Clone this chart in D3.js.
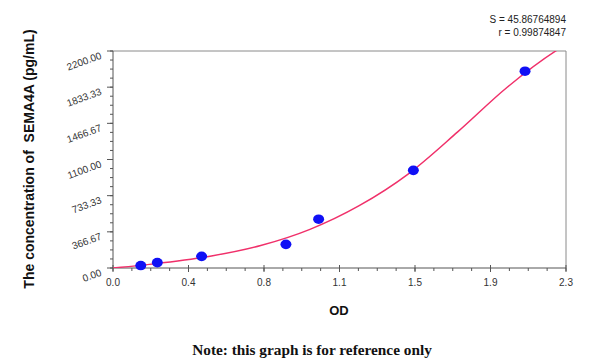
<!DOCTYPE html>
<html>
<head>
<meta charset="utf-8">
<script src="https://cdn.jsdelivr.net/npm/d3@7"></script>
<style>
  body { margin: 0; background: #fff; }
  svg { display: block; }
</style>
</head>
<body>
<svg width="600" height="362"></svg>
<script>
// standard points (OD, concentration pg/mL)
var stdOD = [0.141, 0.225, 0.450, 0.878, 1.044, 1.525, 2.092];
var stdConc = [25, 55, 118, 240, 495, 990, 1995];

// fitted curve
var curveOD = [0, 0.25, 0.5, 0.75, 1.0, 1.25, 1.5, 1.75, 2.0, 2.25, 2.3];
var curveConc = [0, 52, 122, 228, 392, 632, 955, 1380, 1830, 2203, 2265];

var xTickLabels = ["0.0", "0.4", "0.8", "1.1", "1.5", "1.9", "2.3"];
var yTickLabels = ["0.00", "366.67", "733.33", "1100.00", "1466.67", "1833.33", "2200.00"];

var statS = "S = 45.86764894";
var statR = "r = 0.99874847";

var svg = d3.select("svg");
var plotL = 113, plotR = 566, plotT = 51, plotB = 268;

var x = d3.scaleLinear().domain([0, 2.3]).range([plotL, plotR]);
var y = d3.scaleLinear().domain([0, 2200]).range([plotB, plotT]);

var majorX = d3.range(7).map(function(i) { return i * 2.3 / 6; });
var minorX = d3.range(25).map(function(i) { return i * 2.3 / 24; });
var majorY = d3.range(7).map(function(i) { return i * 2200 / 6; });
var minorY = d3.range(25).map(function(i) { return i * 2200 / 24; });

// frame
svg.append("path")
    .attr("d", "M" + plotL + "," + plotT + "H" + plotR + "V" + plotB)
    .style("fill", "none")
    .style("stroke", "#8a8a8a")
    .style("stroke-width", 1);

// x axis
var gx = svg.append("g").attr("transform", "translate(0," + plotB + ")");
gx.append("line")
    .attr("x1", plotL).attr("x2", plotR).attr("y1", 0).attr("y2", 0)
    .style("stroke", "#555");
gx.selectAll("line.minor")
    .data(minorX)
    .enter()
    .append("line")
    .attr("class", "minor")
    .attr("x1", function(d) { return x(d); })
    .attr("x2", function(d) { return x(d); })
    .attr("y1", 0).attr("y2", 3)
    .style("stroke", "#555");
gx.selectAll("line.major")
    .data(majorX)
    .enter()
    .append("line")
    .attr("class", "major")
    .attr("x1", function(d) { return x(d); })
    .attr("x2", function(d) { return x(d); })
    .attr("y1", -3).attr("y2", 4)
    .style("stroke", "#555");
gx.selectAll("text")
    .data(majorX)
    .enter()
    .append("text")
    .attr("x", function(d) { return x(d); })
    .attr("y", 18)
    .text(function(d, i) { return xTickLabels[i]; })
    .style("font-family", "Arial, 'Liberation Sans', sans-serif")
    .style("font-size", "10px")
    .style("fill", "#333")
    .style("text-anchor", "middle");

// y axis
var gy = svg.append("g").attr("transform", "translate(" + plotL + ",0)");
gy.append("line")
    .attr("x1", 0).attr("x2", 0).attr("y1", plotT).attr("y2", plotB)
    .style("stroke", "#555");
gy.selectAll("line.minor")
    .data(minorY)
    .enter()
    .append("line")
    .attr("class", "minor")
    .attr("x1", -3).attr("x2", 0)
    .attr("y1", function(d) { return y(d); })
    .attr("y2", function(d) { return y(d); })
    .style("stroke", "#555");
gy.selectAll("line.major")
    .data(majorY)
    .enter()
    .append("line")
    .attr("class", "major")
    .attr("x1", -6).attr("x2", 0)
    .attr("y1", function(d) { return y(d); })
    .attr("y2", function(d) { return y(d); })
    .style("stroke", "#555");
gy.selectAll("text")
    .data(majorY)
    .enter()
    .append("text")
    .attr("transform", function(d) { return "translate(-12," + (y(d) + 4) + ") rotate(-20)"; })
    .attr("dy", "0.35em")
    .text(function(d, i) { return yTickLabels[i]; })
    .style("font-family", "Arial, 'Liberation Sans', sans-serif")
    .style("font-size", "10px")
    .style("fill", "#333")
    .style("text-anchor", "end");

// curve
svg.append("clipPath").attr("id", "plot")
    .append("rect")
    .attr("x", plotL).attr("y", plotT)
    .attr("width", plotR - plotL).attr("height", plotB - plotT);

var line = d3.line()
    .x(function(d) { return x(d[0]); })
    .y(function(d) { return y(d[1]); })
    .curve(d3.curveMonotoneX);

svg.append("path")
    .datum(d3.zip(curveOD, curveConc))
    .attr("d", line)
    .attr("clip-path", "url(#plot)")
    .style("fill", "none")
    .style("stroke", "#f0306a")
    .style("stroke-width", 1.5);

// points
svg.selectAll("ellipse")
    .data(d3.zip(stdOD, stdConc))
    .enter()
    .append("ellipse")
    .attr("cx", function(d) { return x(d[0]); })
    .attr("cy", function(d) { return y(d[1]); })
    .attr("rx", 5.5)
    .attr("ry", 4.8)
    .style("fill", "#1010f5");

// titles
svg.append("text")
    .attr("transform", "translate(34,159) rotate(-90)")
    .text("The concentration of  SEMA4A (pg/mL)")
    .style("font-family", "Arial, 'Liberation Sans', sans-serif")
    .style("font-size", "14px")
    .style("font-weight", "bold")
    .style("fill", "#111")
    .style("text-anchor", "middle")
    .style("white-space", "pre");

svg.append("text")
    .attr("x", 339).attr("y", 315)
    .text("OD")
    .style("font-family", "Arial, 'Liberation Sans', sans-serif")
    .style("font-size", "13px")
    .style("font-weight", "bold")
    .style("fill", "#111")
    .style("text-anchor", "middle");

svg.selectAll("text.stat")
    .data([statS, statR])
    .enter()
    .append("text")
    .attr("class", "stat")
    .attr("x", 566)
    .attr("y", function(d, i) { return 23 + i * 13; })
    .text(function(d) { return d; })
    .style("font-family", "Arial, 'Liberation Sans', sans-serif")
    .style("font-size", "10px")
    .style("fill", "#222")
    .style("text-anchor", "end");

svg.append("text")
    .attr("x", 312).attr("y", 355)
    .text("Note: this graph is for reference only")
    .style("font-family", "'Liberation Serif', 'Times New Roman', serif")
    .style("font-size", "15.3px")
    .style("font-weight", "bold")
    .style("fill", "#111")
    .style("text-anchor", "middle");
</script>
</body>
</html>
